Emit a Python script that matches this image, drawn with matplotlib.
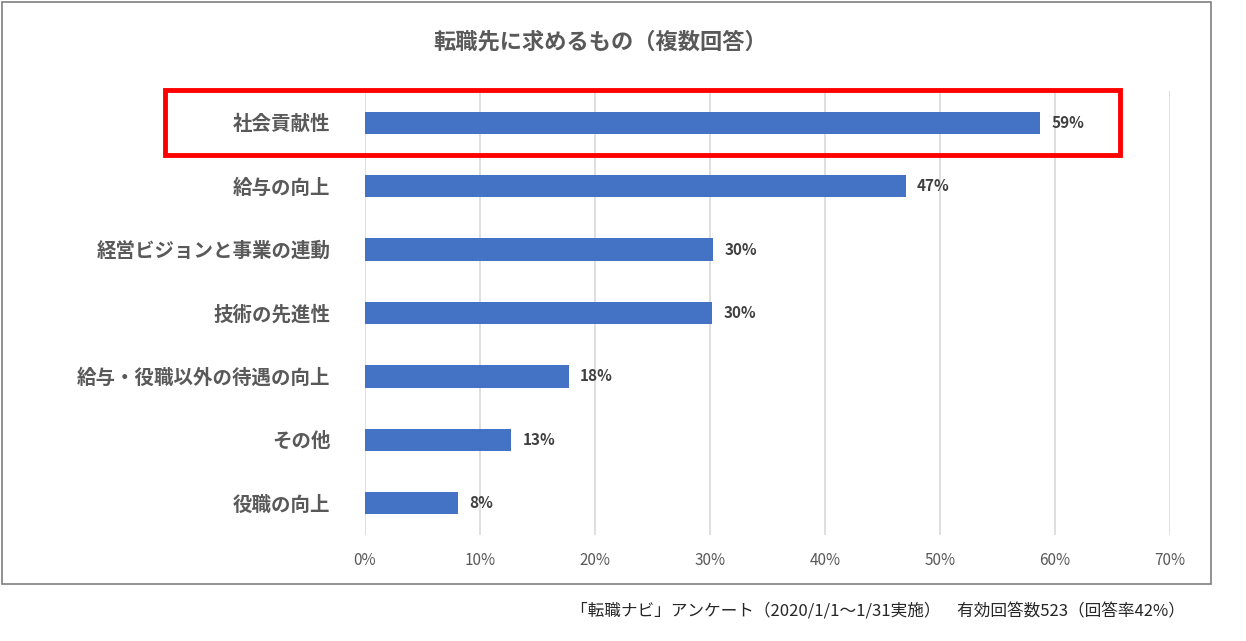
import matplotlib
matplotlib.use("Agg")
import matplotlib.pyplot as plt
from matplotlib.patches import Rectangle

plt.rcParams["font.family"] = "Noto Sans CJK JP"

categories = ["社会貢献性", "給与の向上", "経営ビジョンと事業の連動", "技術の先進性",
              "給与・役職以外の待遇の向上", "その他", "役職の向上"]
values = [58.7, 47.0, 30.3, 30.2, 17.7, 12.7, 8.1]
xticks = [0, 10, 20, 30, 40, 50, 60, 70]

W, H = 1246, 641
fig = plt.figure(figsize=(W/100, H/100), dpi=100)
gray = "#595959"

# outer chart border
fig.patches.append(Rectangle((2/W, 1-584/H), 1209/W, 582/H, transform=fig.transFigure,
                             fill=False, edgecolor="#7f7f7f", linewidth=1.2))

ax = fig.add_axes([365/W, 1-535/H, 805/W, 444/H])
y = list(range(len(categories)))
ax.barh(y, values, height=0.35, color="#4472C4", zorder=3)
ax.set_ylim(len(categories)-0.5, -0.5)
ax.set_xlim(0, 70)
ax.set_xticks(xticks)
ax.set_xticklabels([f"{t}%" for t in xticks], color=gray, fontsize=11)
ax.set_yticks(y)
ax.set_yticklabels(categories, fontsize=14, fontweight="bold", color=gray)
ax.tick_params(length=0, axis="both")
ax.tick_params(axis="y", pad=25)
ax.tick_params(axis="x", pad=12)
ax.grid(axis="x", color="#d9d9d9", linewidth=1.2, zorder=0)
for s in ax.spines.values():
    s.set_visible(False)
for yi, v in zip(y, values):
    ax.text(v + 1.0, yi, f"{round(v)}%", va="center", ha="left", fontsize=11,
            fontweight="bold", color="#404040")

fig.text(600/W, 1-42/H, "転職先に求めるもの（複数回答）", ha="center", va="center",
         fontsize=16, fontweight="bold", color=gray)

fig.patches.append(Rectangle((165/W, 1-155/H), 955/W, 65/H, transform=fig.transFigure,
                             fill=False, edgecolor="#FF0000", linewidth=3.5))

fig.text(1185/W, 1-612/H, "「転職ナビ」アンケート（2020/1/1～1/31実施）　有効回答数523（回答率42%）",
         ha="right", va="center", fontsize=12, color="#262626")

fig.savefig("out.png", dpi=100, facecolor="white")
